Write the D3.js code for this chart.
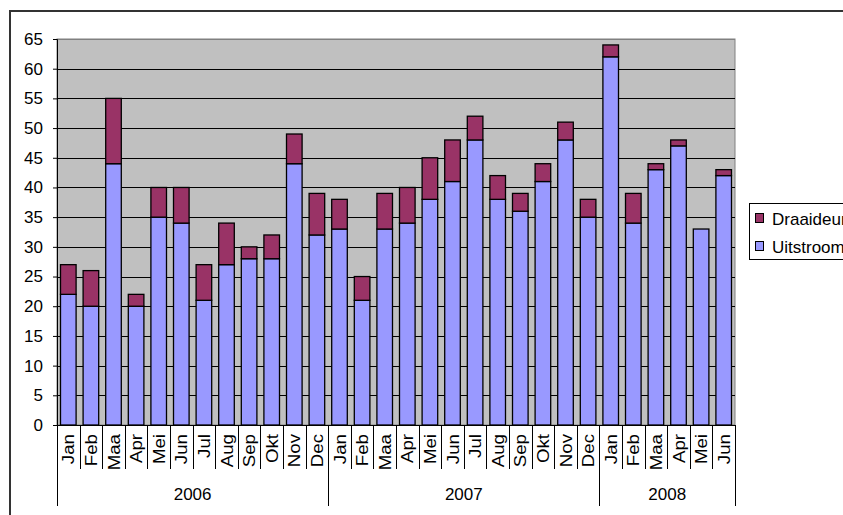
<!DOCTYPE html>
<html>
<head>
<meta charset="utf-8">
<script src="https://cdn.jsdelivr.net/npm/d3@7"></script>
<style>
  body { margin: 0; background: #fff; }
  svg { display: block; font-family: "Liberation Sans", Arial, sans-serif; }
</style>
</head>
<body>
<div id="chart"></div>
<script>
// data
const months = ['Jan', 'Feb', 'Maa', 'Apr', 'Mei', 'Jun', 'Jul', 'Aug', 'Sep', 'Okt', 'Nov', 'Dec',
	'Jan', 'Feb', 'Maa', 'Apr', 'Mei', 'Jun', 'Jul', 'Aug', 'Sep', 'Okt', 'Nov', 'Dec',
	'Jan', 'Feb', 'Maa', 'Apr', 'Mei', 'Jun'];
const years = ['2006', '2007', '2008'];
const yearCounts = [12, 12, 6];
const uitstroom = [22, 20, 44, 20, 35, 34, 21, 27, 28, 28, 44, 32,
	33, 21, 33, 34, 38, 41, 48, 38, 36, 41, 48, 35,
	62, 34, 43, 47, 33, 42];
const draaideur = [5, 6, 11, 2, 5, 6, 6, 7, 2, 4, 5, 7,
	5, 4, 6, 6, 7, 7, 4, 4, 3, 3, 3, 3,
	2, 5, 1, 1, 0, 1];
const yTicks = d3.range(0, 66, 5);

const W = 843, H = 515;
const plotLeft = 57, plotRight = 735, plotTop = 39, plotBottom = 425;

const svg = d3.select('#chart').append('svg')
	.attr('width', W)
	.attr('height', H);

// buitenrand
svg.append('rect')
	.attr('x', 10).attr('y', 11)
	.attr('width', 860).attr('height', 530)
	.attr('fill', '#fff')
	.attr('stroke', '#333')
	.attr('stroke-width', 2);

const keys = months.map((m, i) => i);
const x = d3.scaleBand().domain(keys).range([plotLeft, plotRight]).paddingInner(0.31).paddingOuter(0.155);
const y = d3.scaleLinear().domain([0, 65]).range([plotBottom, plotTop]);

// plotvlak
svg.append('rect')
	.attr('x', plotLeft).attr('y', plotTop)
	.attr('width', plotRight - plotLeft).attr('height', plotBottom - plotTop)
	.attr('fill', '#c0c0c0')
	.attr('stroke', '#808080')
	.attr('stroke-width', 1);

// rasterlijnen
svg.append('g')
	.selectAll('line')
	.data(yTicks.slice(1))
	.enter()
	.append('line')
	.attr('x1', plotLeft).attr('x2', plotRight)
	.attr('y1', d => Math.round(y(d)) + 0.5)
	.attr('y2', d => Math.round(y(d)) + 0.5)
	.attr('stroke', d => d === 65 ? '#808080' : '#000')
	.attr('stroke-width', 1);

// gestapelde balken
const stack = d3.stack().keys(['Uitstroom', 'Draaideur'])(
	keys.map(i => ({ Uitstroom: uitstroom[i], Draaideur: draaideur[i] }))
);
const colors = { Uitstroom: '#9999ff', Draaideur: '#993366' };

stack.forEach(layer => {
	svg.append('g')
		.selectAll('rect')
		.data(layer.map((d, i) => ({ i: i, y0: d[0], y1: d[1] })).filter(d => d.y1 > d.y0))
		.enter()
		.append('rect')
		.attr('x', d => x(d.i))
		.attr('y', d => y(d.y1))
		.attr('width', x.bandwidth())
		.attr('height', d => y(d.y0) - y(d.y1))
		.attr('fill', colors[layer.key])
		.attr('stroke', '#000')
		.attr('stroke-width', 1.3);
});

// y-as
const yAxis = svg.append('g')
	.attr('transform', 'translate(' + plotLeft + ',0)')
	.call(d3.axisLeft(y).tickValues(yTicks).tickSize(4).tickPadding(10));
yAxis.select('.domain').attr('stroke', '#000');
yAxis.selectAll('text').style('font-size', '17px').attr('fill', '#000');

// x-as: maanden
svg.append('line')
	.attr('x1', plotLeft).attr('x2', plotRight)
	.attr('y1', plotBottom + 0.5).attr('y2', plotBottom + 0.5)
	.attr('stroke', '#000');

const step = x.step();
const boundary = i => plotLeft + i * step;

svg.append('g')
	.selectAll('line')
	.data(d3.range(0, months.length + 1))
	.enter()
	.append('line')
	.attr('x1', d => Math.round(boundary(d)) + 0.5)
	.attr('x2', d => Math.round(boundary(d)) + 0.5)
	.attr('y1', plotBottom)
	.attr('y2', 469)
	.attr('stroke', '#000');

svg.append('g')
	.selectAll('text')
	.data(months)
	.enter()
	.append('text')
	.attr('transform', (d, i) => 'translate(' + (x(i) + x.bandwidth() / 2 + 6) + ',' + (plotBottom + 9) + ') rotate(-90) scale(1.1,1)')
	.attr('text-anchor', 'end')
	.style('font-size', '17px')
	.text(d => d);

// x-as: jaren
let acc = 0;
const yearPos = yearCounts.map(c => {
	const p = { start: acc, end: acc + c };
	acc += c;
	return p;
});

svg.append('g')
	.selectAll('line')
	.data([0].concat(yearPos.map(p => p.end)))
	.enter()
	.append('line')
	.attr('x1', d => Math.round(boundary(d)) + 0.5)
	.attr('x2', d => Math.round(boundary(d)) + 0.5)
	.attr('y1', plotBottom)
	.attr('y2', 506)
	.attr('stroke', '#000');

svg.append('g')
	.selectAll('text')
	.data(years)
	.enter()
	.append('text')
	.attr('x', (d, i) => (boundary(yearPos[i].start) + boundary(yearPos[i].end)) / 2)
	.attr('y', 500)
	.attr('text-anchor', 'middle')
	.style('font-size', '17px')
	.text(d => d);

// legenda
const legend = svg.append('g').attr('transform', 'translate(749,203)');
legend.append('rect')
	.attr('x', 0.5).attr('y', 0.5)
	.attr('width', 120).attr('height', 56)
	.attr('fill', '#fff')
	.attr('stroke', '#000');

['Draaideur', 'Uitstroom'].forEach((k, i) => {
	legend.append('rect')
		.attr('x', 6.5).attr('y', 10.5 + i * 28)
		.attr('width', 8).attr('height', 9)
		.attr('fill', colors[k])
		.attr('stroke', '#000');
	legend.append('text')
		.attr('x', 23).attr('y', 22 + i * 28)
		.style('font-size', '17px')
		.text(k);
});
</script>
</body>
</html>
